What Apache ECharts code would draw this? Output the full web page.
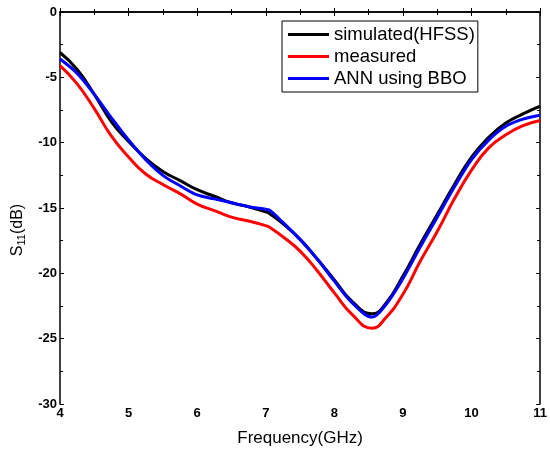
<!DOCTYPE html>
<html>
<head>
<meta charset="utf-8">
<script src="https://cdn.jsdelivr.net/npm/echarts@6/dist/echarts.min.js"></script>
<style>html,body{margin:0;padding:0;background:#fff}#c{width:550px;height:452px}</style>
</head>
<body>
<div id="c"></div>
<script>
const freq      = [4, 4.25, 4.5, 4.75, 5, 5.25, 5.5, 5.75, 6, 6.25, 6.5, 6.75, 7, 7.05, 7.25, 7.5, 7.75, 8, 8.25, 8.55, 8.75, 9, 9.25, 9.5, 9.75, 10, 10.25, 10.5, 10.75, 11];
const simulated = [-3.1, -4.4, -6.3, -8.4, -9.9, -11.2, -12.2, -12.9, -13.6, -14.1, -14.6, -14.9, -15.3, -15.4, -16.2, -17.4, -18.9, -20.5, -22.1, -23.1, -22.3, -20.2, -17.8, -15.5, -13.2, -11.1, -9.6, -8.5, -7.8, -7.2];
const measured  = [-4.1, -5.5, -7.4, -9.5, -11.1, -12.4, -13.2, -13.9, -14.7, -15.2, -15.7, -16.0, -16.35, -16.45, -17.2, -18.3, -19.8, -21.5, -23.1, -24.2, -23.4, -21.6, -19.1, -16.8, -14.3, -12.1, -10.4, -9.4, -8.7, -8.3];
const annBBO    = [-3.6, -4.7, -6.3, -8.1, -9.8, -11.3, -12.5, -13.3, -14.0, -14.3, -14.6, -14.9, -15.1, -15.15, -16.1, -17.4, -18.9, -20.6, -22.2, -23.35, -22.4, -20.4, -18.0, -15.7, -13.4, -11.3, -9.8, -8.75, -8.2, -7.9];
const seriesNames = ['simulated(HFSS)', 'measured', 'ANN using BBO'];
const xMin = 4, xMax = 11, xStep = 1;
const yMin = -30, yMax = 0, yStep = 5;

const pairs = arr => freq.map((f, i) => [f, arr[i]]);
const font = 'Liberation Sans, Arial, sans-serif';
const axisLine = {show: true, lineStyle: {color: '#000', width: 1.5}};
const tick = {show: true, inside: true, length: 4, lineStyle: {color: '#000', width: 1}};
const minor = {show: true, splitNumber: 2, length: 3, lineStyle: {color: '#000', width: 1}};
const lbl = {color: '#000', fontFamily: font, fontWeight: 'bold', fontSize: 13};

const chart = echarts.init(document.getElementById('c'), null, {renderer: 'canvas'});
chart.setOption({
  animation: false,
  backgroundColor: '#fff',
  grid: {left: 60, right: 3, top: 12, bottom: 44, containLabel: false},
  legend: {
    orient: 'vertical', left: 282, top: 21,
    data: seriesNames,
    icon: 'rect', itemWidth: 41, itemHeight: 3, itemGap: 3,
    padding: [4, 3, 4, 6],
    borderColor: '#000', borderWidth: 1,
    textStyle: {color: '#000', fontFamily: font, fontSize: 18.5, lineHeight: 19}
  },
  xAxis: [{
    type: 'value', min: xMin, max: xMax, interval: xStep,
    name: 'Frequency(GHz)', nameLocation: 'middle', nameGap: 26,
    nameTextStyle: {color: '#000', fontFamily: font, fontSize: 17},
    axisLine: axisLine, axisTick: tick, minorTick: minor,
    axisLabel: Object.assign({margin: 3}, lbl),
    splitLine: {show: false}
  }, {
    type: 'value', position: 'top', min: xMin, max: xMax, interval: xStep,
    axisLine: axisLine, axisTick: tick, minorTick: minor,
    axisLabel: {show: false}, splitLine: {show: false}
  }],
  yAxis: [{
    type: 'value', min: yMin, max: yMax, interval: yStep,
    name: '{a|S}{s|11}{a|(dB)}', nameLocation: 'middle', nameGap: 33,
    nameMoveOverlap: false,
    nameTextStyle: {
      padding: [0, 44, 0, 0],
      rich: {
        a: {color: '#000', fontFamily: font, fontSize: 16},
        s: {color: '#000', fontFamily: font, fontSize: 11, padding: [8, 0, 0, 0]}
      }
    },
    axisLine: axisLine, axisTick: tick, minorTick: minor,
    axisLabel: Object.assign({margin: 3}, lbl),
    splitLine: {show: false}
  }, {
    type: 'value', position: 'right', min: yMin, max: yMax, interval: yStep,
    axisLine: axisLine, axisTick: tick, minorTick: minor,
    axisLabel: {show: false}, splitLine: {show: false}
  }],
  series: [
    {name: seriesNames[0], type: 'line', data: pairs(simulated), smooth: 0.5, symbol: 'none', lineStyle: {color: '#000000', width: 3}, itemStyle: {color: '#000000'}, z: 2},
    {name: seriesNames[1], type: 'line', data: pairs(measured), smooth: 0.5, symbol: 'none', lineStyle: {color: '#ff0000', width: 3}, itemStyle: {color: '#ff0000'}, z: 3},
    {name: seriesNames[2], type: 'line', data: pairs(annBBO), smooth: 0.35, symbol: 'none', lineStyle: {color: '#0000ff', width: 3}, itemStyle: {color: '#0000ff'}, z: 4}
  ]
});
</script>
</body>
</html>
